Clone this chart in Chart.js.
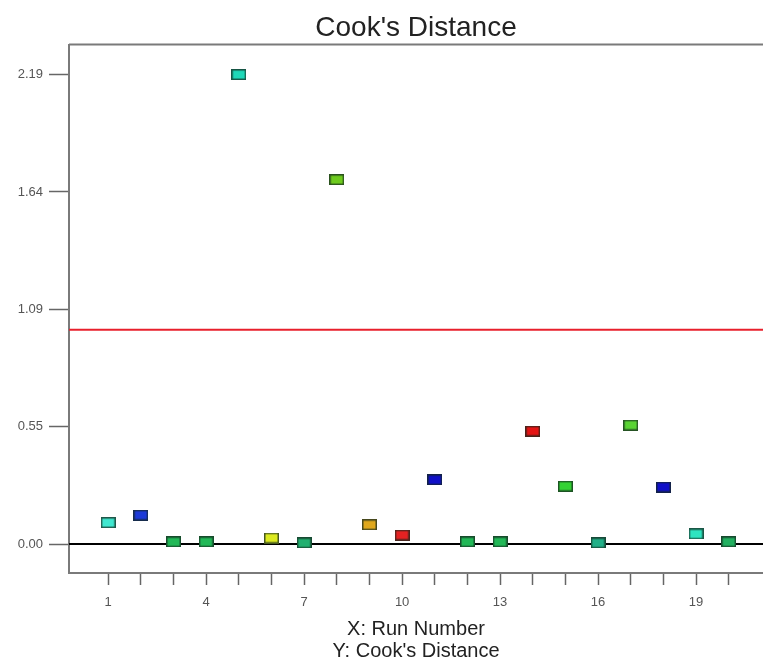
<!DOCTYPE html>
<html>
<head>
<meta charset="utf-8">
<script src="https://cdn.jsdelivr.net/npm/chart.js@4"></script>
<style>
  html, body { margin: 0; padding: 0; background: #fff; overflow: hidden; }
  #wrap { width: 763px; height: 667px; }
</style>
</head>
<body>
<div id="wrap"><canvas id="cook" width="763" height="667"></canvas></div>
<script>
const runNumbers = [1, 2, 3, 4, 5, 6, 7, 8, 9, 10, 11, 12, 13, 14, 15, 16, 17, 18, 19, 20];
const cooksDistance = [0.10, 0.135, 0.01, 0.01, 2.19, 0.028, 0.005, 1.70, 0.09, 0.042, 0.30, 0.01, 0.01, 0.527, 0.27, 0.005, 0.555, 0.266, 0.047, 0.01];
const pointColors = [
    '#40e8d0', '#1c3ad8', '#22b857', '#22b857', '#1ed8b8', '#dcea20', '#22b070', '#6ecb1e', '#e0a81c', '#e42222',
    '#1010c8', '#22b857', '#22b857', '#e41414', '#34d234', '#22b088', '#5ad434', '#1010c8', '#2ee4c0', '#22b060'
];
const yTickValues = [0, 0.5475, 1.095, 1.6425, 2.19];
const yTickLabels = ['0.00', '0.55', '1.09', '1.64', '2.19'];
const xTickLabels = ['1', '4', '7', '10', '13', '16', '19'];
const limitValue = 1.0;
const xMin = -0.2;
const xMax = 21.05;

const FONT = '"Liberation Sans", Arial, sans-serif';

// small rectangle markers, one per colour
const makeMarker = (color) => {
    const c = document.createElement('canvas');
    c.width = 15;
    c.height = 11;
    const ctx = c.getContext('2d');
    ctx.fillStyle = color;
    ctx.fillRect(0, 0, 15, 11);
    ctx.strokeStyle = 'rgba(20, 40, 30, 0.75)';
    ctx.lineWidth = 1.5;
    ctx.strokeRect(0.75, 0.75, 13.5, 9.5);
    return c;
};
const markers = pointColors.map(makeMarker);

// top frame line + centre the title over the plot area
const frame = {
    id: 'frame',
    afterLayout(chart) {
        if (chart.titleBlock) {
            chart.titleBlock.left = chart.chartArea.left;
            chart.titleBlock.right = chart.chartArea.right;
        }
    },
    afterDraw(chart) {
        const { ctx, chartArea } = chart;
        ctx.save();
        ctx.strokeStyle = '#7a7a7a';
        ctx.lineWidth = 2;
        ctx.beginPath();
        ctx.moveTo(chartArea.left, chartArea.top);
        ctx.lineTo(chartArea.right, chartArea.top);
        ctx.stroke();
        ctx.restore();
    },
};

new Chart(document.getElementById('cook'), {
    type: 'scatter',
    data: {
        datasets: [
            {
                label: 'limit',
                type: 'line',
                data: [{ x: xMin, y: limitValue }, { x: xMax, y: limitValue }],
                borderColor: '#e8202c',
                borderWidth: 2,
                pointRadius: 0,
                order: 3,
            },
            {
                label: 'zero',
                type: 'line',
                data: [{ x: xMin, y: 0 }, { x: xMax, y: 0 }],
                borderColor: '#000000',
                borderWidth: 2,
                pointRadius: 0,
                order: 2,
            },
            {
                label: "Cook's Distance",
                data: runNumbers.map((r, i) => ({ x: r, y: cooksDistance[i] })),
                pointStyle: markers,
                pointRadius: 7,
                order: 1,
            },
        ],
    },
    options: {
        responsive: false,
        animation: false,
        layout: { padding: 0, autoPadding: false },
        plugins: {
            legend: { display: false },
            tooltip: { enabled: false },
            title: {
                display: true,
                text: "Cook's Distance",
                color: '#222',
                font: { family: FONT, size: 28, weight: 'normal' },
                padding: { top: 11, bottom: 0 },
            },
        },
        scales: {
            x: {
                type: 'linear',
                min: xMin,
                max: xMax,
                afterBuildTicks: (scale) => {
                    scale.ticks = runNumbers.map((v) => ({ value: v }));
                },
                afterFit: (scale) => {
                    scale.height = 94;
                    scale.paddingLeft = 0;
                    scale.paddingRight = 0;
                },
                ticks: {
                    autoSkip: false,
                    maxRotation: 0,
                    color: '#555',
                    padding: 10,
                    font: { family: FONT, size: 13 },
                    callback: (v) => xTickLabels.includes(String(v)) ? String(v) : '',
                },
                grid: {
                    drawOnChartArea: false,
                    drawTicks: true,
                    tickLength: 12,
                    tickColor: '#666',
                    tickWidth: 1.5,
                },
                border: { display: true, color: '#7a7a7a', width: 2 },
                title: {
                    display: true,
                    text: ['X: Run Number', "Y: Cook's Distance"],
                    color: '#222',
                    font: { family: FONT, size: 20, lineHeight: 1.1 },
                    padding: { top: 2, bottom: 5 },
                },
            },
            y: {
                type: 'linear',
                min: -0.135,
                max: 2.33,
                afterBuildTicks: (scale) => {
                    scale.ticks = yTickValues.map((v) => ({ value: v }));
                },
                afterFit: (scale) => { scale.width = 69; },
                ticks: {
                    color: '#555',
                    padding: 6,
                    font: { family: FONT, size: 13 },
                    callback: (v) => {
                        const i = yTickValues.indexOf(v);
                        return i >= 0 ? yTickLabels[i] : '';
                    },
                },
                grid: {
                    drawOnChartArea: false,
                    drawTicks: true,
                    tickLength: 20,
                    tickColor: '#666',
                    tickWidth: 1.5,
                },
                border: { display: true, color: '#7a7a7a', width: 2 },
            },
        },
    },
    plugins: [frame],
});
</script>
</body>
</html>
